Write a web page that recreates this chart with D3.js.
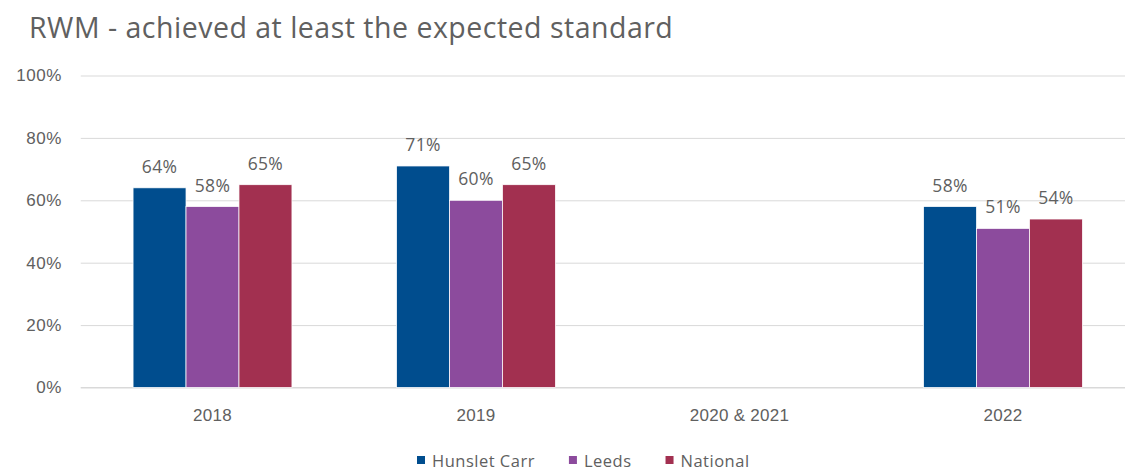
<!DOCTYPE html>
<html>
<head>
<meta charset="utf-8">
<script src="https://cdn.jsdelivr.net/npm/d3@7"></script>
<style>
  html, body { margin: 0; padding: 0; background: #ffffff; }
  svg { display: block; font-family: "Open Sans", "Noto Sans", sans-serif; }
</style>
</head>
<body>
<svg id="chart" width="1125" height="473"></svg>
<script>
// Years shown on the x axis (no data for the combined 2020 & 2021 column)
const categories = ["2018", "2019", "2020 & 2021", "2022"];
const seriesNames = ["Hunslet Carr", "Leeds", "National"];
// Percentage achieving at least the expected standard (null = not assessed)
const hunsletCarr = [64, 71, null, 58];
const leeds = [58, 60, null, 51];
const national = [65, 65, null, 54];
const yTicks = [0, 20, 40, 60, 80, 100];
const colors = ["#004d8e", "#8c4b9d", "#a23050"];

const seriesValues = [hunsletCarr, leeds, national];

const svg = d3.select("#chart");
const textColor = "#606060";

const plot = { left: 80.75, right: 1134.75, top: 75.5, bottom: 387.5 };

const x = d3.scaleBand()
  .domain(categories)
  .range([plot.left, plot.right])
  .paddingInner(0.397)
  .paddingOuter(0.1985);

const xSeries = d3.scaleBand()
  .domain(seriesNames)
  .range([0, x.bandwidth()])
  .padding(0);

const y = d3.scaleLinear()
  .domain([0, 100])
  .range([plot.bottom, plot.top]);

// Title
svg.append("text")
  .attr("x", 29)
  .attr("y", 38)
  .attr("fill", textColor)
  .attr("font-size", 28.5)
  .attr("letter-spacing", 0.5)
  .text("RWM - achieved at least the expected standard");

// Gridlines and y-axis labels
const yAxis = d3.axisLeft(y)
  .tickValues(yTicks)
  .tickSize(-(plot.right - plot.left))
  .tickPadding(19)
  .tickFormat(d => d + "%");

const gy = svg.append("g")
  .attr("transform", `translate(${plot.left},0)`)
  .call(yAxis);
gy.select(".domain").remove();
gy.selectAll(".tick line")
  .attr("stroke", "#d9d9d9")
  .attr("stroke-width", 1);
gy.selectAll(".tick text")
  .attr("fill", textColor)
  .attr("font-size", 17)
  .attr("letter-spacing", 0.5);

// Bottom axis line
svg.append("line")
  .attr("x1", plot.left).attr("x2", plot.right)
  .attr("y1", y(0)).attr("y2", y(0))
  .attr("stroke", "#d9d9d9");

// Category labels
const xAxis = d3.axisBottom(x).tickSize(0).tickPadding(21);
const gx = svg.append("g")
  .attr("transform", `translate(0,${y(0)})`)
  .call(xAxis);
gx.select(".domain").remove();
gx.selectAll(".tick text")
  .attr("fill", textColor)
  .attr("font-size", 17)
  .attr("letter-spacing", 0.3);

// Bars and value labels
const groups = svg.append("g")
  .selectAll("g")
  .data(categories)
  .join("g")
  .attr("transform", d => `translate(${x(d)},0)`);

const barData = i => seriesNames.map((s, k) => ({ series: s, k, value: seriesValues[k][i] }))
  .filter(d => d.value !== null);

groups.each(function (cat, i) {
  const g = d3.select(this);
  const data = barData(i);
  g.selectAll("rect")
    .data(data)
    .join("rect")
    .attr("x", d => xSeries(d.series))
    .attr("width", xSeries.bandwidth())
    .attr("y", d => y(d.value))
    .attr("height", d => y(0) - y(d.value))
    .attr("fill", d => colors[d.k])
    .attr("stroke", "#ffffff")
    .attr("stroke-width", 0.75);
  g.selectAll("text")
    .data(data)
    .join("text")
    .attr("x", d => xSeries(d.series) + xSeries.bandwidth() / 2)
    .attr("y", d => y(d.value) - 15)
    .attr("text-anchor", "middle")
    .attr("fill", textColor)
    .attr("font-size", 17.5)
    .attr("letter-spacing", 0.3)
    .text(d => d.value + "%");
});

// Legend, laid out from the measured label widths
const legend = svg.append("g").attr("transform", "translate(0,467)");
const items = legend.selectAll("g")
  .data(seriesNames)
  .join("g");
items.append("rect")
  .attr("y", -11)
  .attr("width", 8).attr("height", 8)
  .attr("fill", (d, i) => colors[i]);
items.append("text")
  .attr("x", 15)
  .attr("fill", textColor)
  .attr("font-size", 16.5)
  .attr("letter-spacing", 0.5)
  .text(d => d);

let cursor = 417;
const offsets = [];
items.each(function () {
  offsets.push(cursor);
  cursor += 15 + d3.select(this).select("text").node().getComputedTextLength() + 34;
});
items.attr("transform", (d, i) => `translate(${offsets[i]},0)`);
</script>
</body>
</html>
